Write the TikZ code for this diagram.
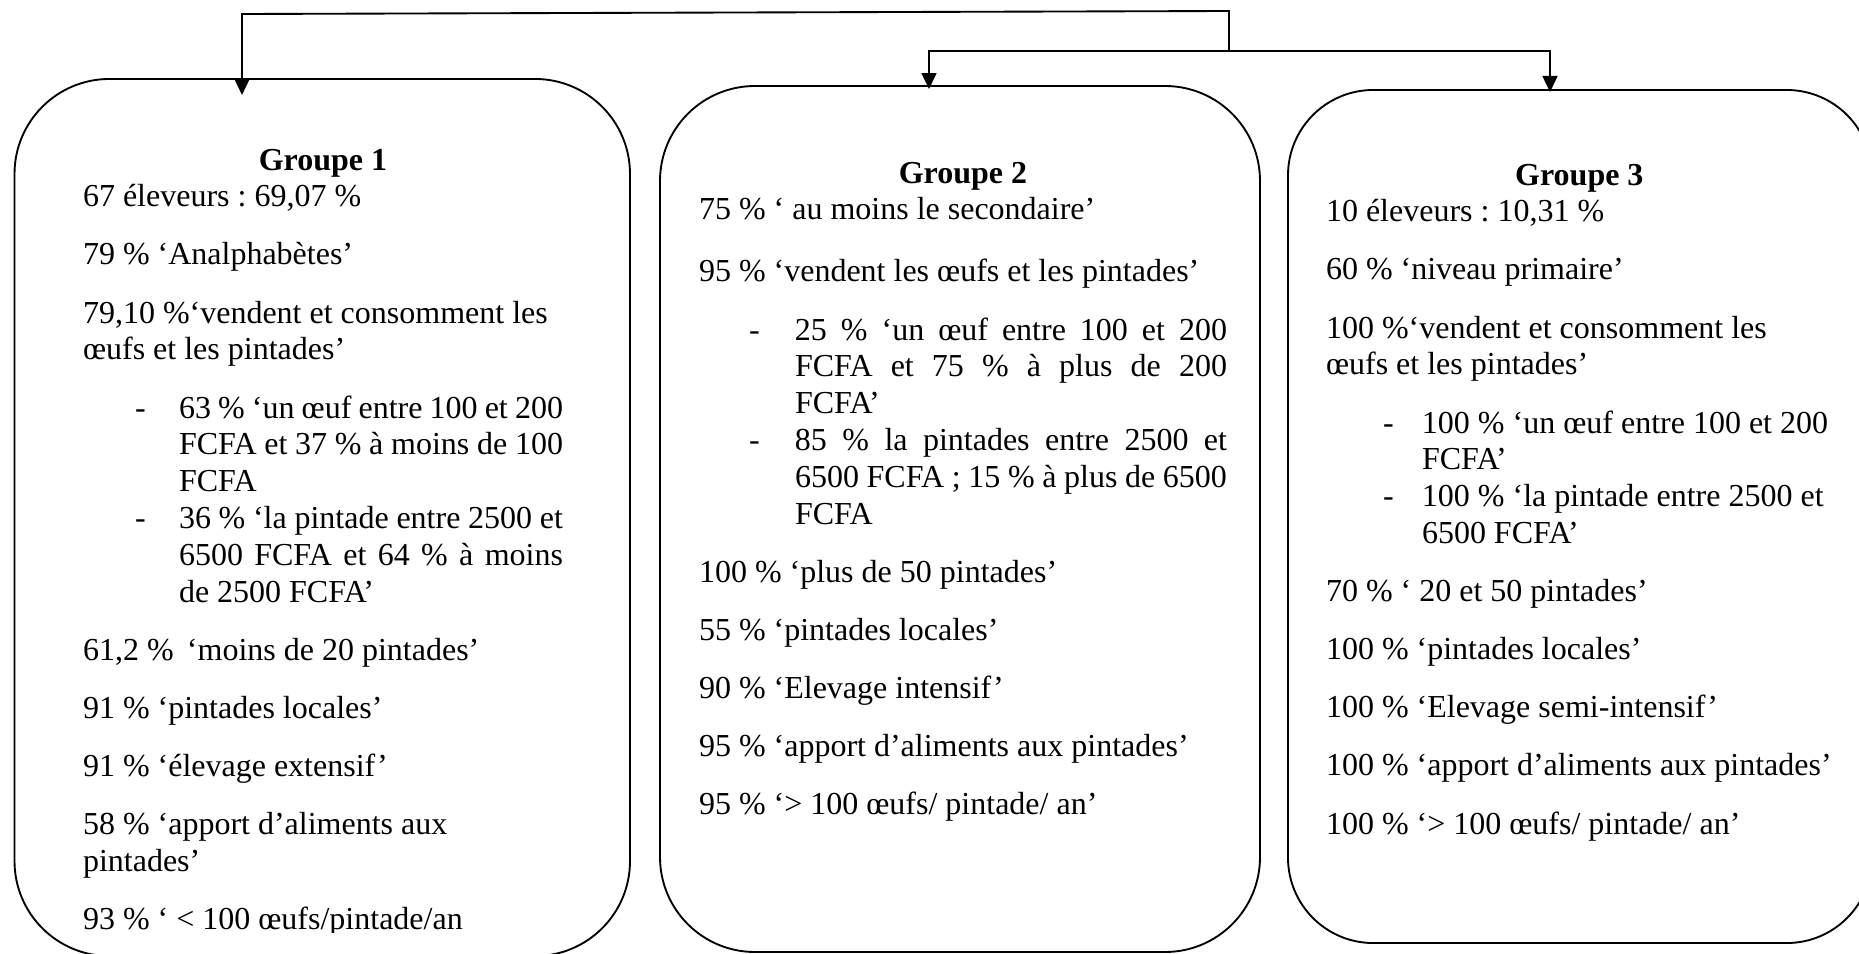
\documentclass[tikz,border=0pt]{standalone}
\usepackage{fontspec}
\setmainfont{Liberation Serif}
\usetikzlibrary{arrows.meta}
\frenchspacing
\tikzset{
  grpbox/.style={draw, line width=0.7pt, inner sep=0pt, outer sep=0pt},
  grptext/.style={anchor=base west, inner sep=0pt, outer sep=0pt, align=justify,
    font=\fontsize{12}{13.8}\selectfont\frenchspacing},
  conn/.style={line width=0.7pt},
  arr/.style={conn, -{Triangle[width=5.6pt,length=6pt]}},
}
\newcommand\ghead[1]{{\centering\bfseries #1\par}}
\newcommand\gl[1]{\mbox{#1}\par\vspace{8pt}}
\newcommand\gitem[2][17pt]{{\leftskip=36pt\noindent\llap{\makebox[#1][l]{-}}#2\par}}
\begin{document}
\begin{tikzpicture}[x=0.375pt,y=-0.375pt]
\useasboundingbox (0,0) rectangle (1859,953);
% boxes
\node[grpbox, rounded corners=35.6pt, minimum width=230.8pt, minimum height=328.9pt] (box1) at (322.25,517.5) {};
\node[grpbox, rounded corners=35.6pt, minimum width=225pt, minimum height=324.75pt] (box2) at (960,519) {};
\node[grpbox, rounded corners=32pt, minimum width=219pt, minimum height=319.9pt] (box3) at (1580,516.5) {};
% connectors
\coordinate (hub) at (1229,11);
\coordinate (bend1) at (242,14);
\coordinate (hub2) at (1229,51);
\path (bend1 |- box1.north) ++(0,16) coordinate (tip1);
\path (box2.north west) ++(269,3) coordinate (tip2);
\path (box3.north west) ++(262,2) coordinate (tip3);
\draw[arr] (hub2) -- (hub) -- (bend1) -- (tip1);
\draw[arr] (hub2) -| (tip2);
\draw[arr] (hub2) -| (tip3);
% texts
\begin{scope}
\clip (0,0) rectangle (1859,932);
\node[grptext, text width=180pt] (t1) at (83,170) {%
\ghead{Groupe 1}%
\gl{67 éleveurs : 69,07 \%}
\gl{79 \% ‘Analphabètes’}
\mbox{79,10 \%‘vendent et consomment les}\\\mbox{œufs et les pintades’}\par\vspace{8pt}
\gitem[16.5pt]{63 \% ‘un œuf entre 100 et 200\linebreak FCFA et 37 \% à moins de 100\linebreak FCFA}
\gitem[16.5pt]{36 \% ‘la pintade entre 2500 et\linebreak 6500 FCFA et 64 \% à moins\linebreak de 2500 FCFA’}\vspace{8pt}
\gl{61,2 \% \,‘moins de 20 pintades’}
\gl{91 \% ‘pintades locales’}
\gl{91 \% ‘élevage extensif’}
\mbox{58 \% ‘apport d’aliments aux}\\\mbox{pintades’}\par\vspace{8pt}
\mbox{93 \% ‘ < 100 œufs/pintade/an}\par};
\end{scope}
\node[grptext, text width=198pt] (t2) at (699,183) {%
\ghead{Groupe 2}%
\mbox{75 \% ‘ au moins le secondaire’}\par\vspace{9.5pt}
\gl{95 \% ‘vendent les œufs et les pintades’}
\gitem[17.2pt]{25 \% ‘un œuf entre 100 et 200\linebreak FCFA et 75 \% à plus de 200\linebreak FCFA’}
\gitem[17.2pt]{85 \% la pintades entre 2500 et\linebreak 6500 FCFA ; 15 \% à plus de 6500\linebreak FCFA}\vspace{8pt}
\gl{100 \% ‘plus de 50 pintades’}
\gl{55 \% ‘pintades locales’}
\gl{90 \% ‘Elevage intensif’}
\gl{95 \% ‘apport d’aliments aux pintades’}
\mbox{95 \% ‘> 100 œufs/ pintade/ an’}\par};
\node[grptext, text width=190pt] (t3) at (1326,185) {%
\ghead{Groupe 3}%
\gl{10 éleveurs : 10,31 \%}
\gl{60 \% ‘niveau primaire’}
\mbox{100 \%‘vendent et consomment les}\\\mbox{œufs et les pintades’}\par\vspace{8pt}
\gitem[14.6pt]{100 \% ‘un œuf entre 100 et 200\\FCFA’}
\gitem[14.6pt]{100 \% ‘la pintade entre 2500 et\\6500 FCFA’}\vspace{8pt}
\gl{70 \% ‘ 20 et 50 pintades’}
\gl{100 \% ‘pintades locales’}
\gl{100 \% ‘Elevage semi-intensif’}
\gl{100 \% ‘apport d’aliments aux pintades’}
\mbox{100 \% ‘> 100 œufs/ pintade/ an’}\par};
\end{tikzpicture}
\end{document}
